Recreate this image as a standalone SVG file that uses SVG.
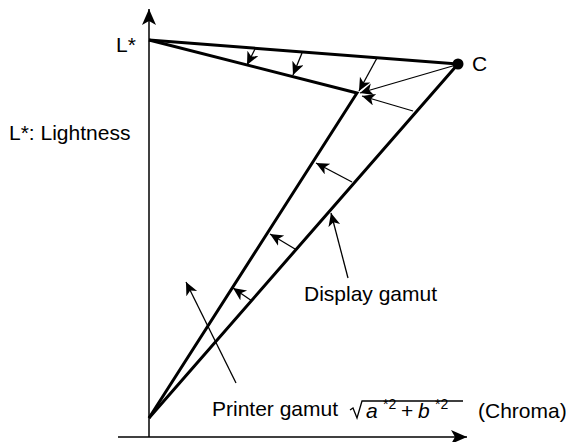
<svg xmlns="http://www.w3.org/2000/svg" width="566" height="442" viewBox="0 0 566 442">
<style>
.t{font-family:"Liberation Sans",Arial,sans-serif;font-size:21px;fill:#000}
.thick{stroke:#000;stroke-width:3;fill:none;stroke-linejoin:miter}
.thin{stroke:#000;stroke-width:1.3;fill:none;marker-end:url(#ah)}
.axis{stroke:#000;stroke-width:1.5;fill:none;marker-end:url(#big)}
</style>
<defs>
<marker id="ah" markerUnits="userSpaceOnUse" markerWidth="16" markerHeight="14" refX="13" refY="6" orient="auto">
<path d="M0,0 L13,6 L0,12 L3.5,6 Z" fill="#000"/>
</marker>
<marker id="big" markerUnits="userSpaceOnUse" markerWidth="18" markerHeight="16" refX="16" refY="7" orient="auto">
<path d="M0,0 L16,7 L0,14 L4,7 Z" fill="#000"/>
</marker>
</defs>
<g id="axes">
<line class="axis" x1="149" y1="437" x2="149" y2="9"/>
<line class="axis" x1="118" y1="437" x2="467" y2="437"/>
</g>
<g id="display-gamut">
<polyline class="thick" points="149,40 458,64 149,418"/>
<circle cx="458" cy="64" r="5.5" fill="#000"/>
</g>
<g id="printer-gamut">
<polyline class="thick" points="149,40 357,93 149,418"/>
</g>
<g id="connectors">
<line class="thin" x1="255" y1="49" x2="247" y2="65"/>
<line class="thin" x1="302" y1="53" x2="293" y2="75"/>
<line class="thin" x1="456" y1="65" x2="360" y2="93"/>
<line class="thin" x1="377" y1="58" x2="359" y2="91"/>
<line class="thin" x1="413" y1="111" x2="362" y2="96"/>
<line class="thin" x1="352" y1="182" x2="316" y2="163"/>
<line class="thin" x1="295" y1="249" x2="270" y2="234"/>
<line class="thin" x1="252" y1="301" x2="233" y2="288"/>
<line class="thin" x1="348" y1="278" x2="331" y2="213"/>
<line class="thin" x1="236" y1="383" x2="186" y2="282"/>
</g>
<g id="labels">
<text class="t" x="116" y="52">L*</text>
<text class="t" x="472" y="71">C</text>
<text class="t" x="9" y="140">L*: Lightness</text>
<text class="t" x="304" y="301">Display gamut</text>
<text class="t" x="212" y="416">Printer gamut</text>
<polyline points="350,410 353,408 357,418 362,401 463,401" stroke="#000" stroke-width="1.3" fill="none"/>
<text class="t" y="418"><tspan x="366" font-style="italic">a</tspan><tspan x="383" y="409" font-size="14">*2</tspan><tspan x="401" y="418">+</tspan><tspan x="418" font-style="italic">b</tspan><tspan x="435" y="409" font-size="14">*2</tspan></text>
<text class="t" x="478" y="418" font-size="20">(Chroma)</text>
</g>
</svg>
